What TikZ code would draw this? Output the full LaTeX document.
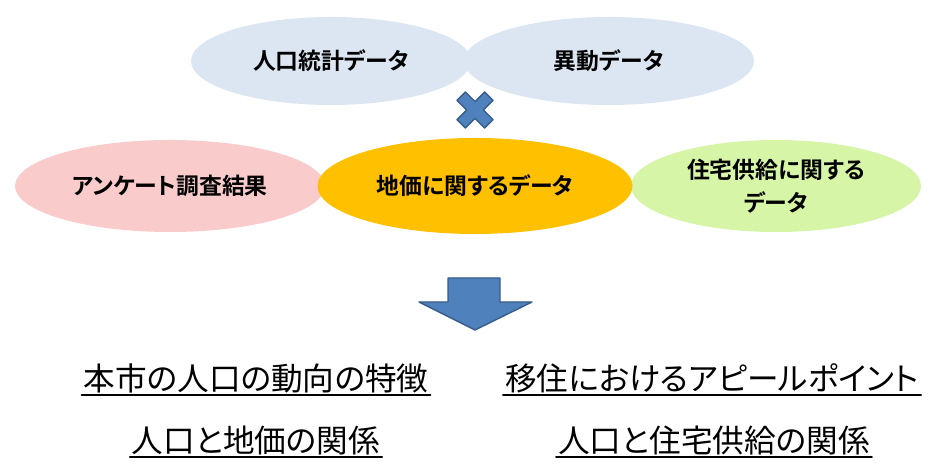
\documentclass[tikz,border=0pt]{standalone}
\usepackage{fontspec}
\setmainfont{Noto Sans CJK JP}[BoldFont=Noto Sans CJK JP Bold,RawFeature=+palt]
\usepackage{xcolor}
\usetikzlibrary{shapes.geometric,calc}
\definecolor{topblue}{HTML}{DCE6F2}
\definecolor{pinkfill}{HTML}{F9CBCB}
\definecolor{orangefill}{HTML}{FFC000}
\definecolor{greenfill}{HTML}{D7F5A7}
\definecolor{arrowfill}{HTML}{4F81BD}
\definecolor{arrowline}{HTML}{385D8A}
\tikzset{
    blob/.style={
        ellipse, inner sep=0pt, align=center,
        font=\fontsize{13}{19}\selectfont\bfseries
    },
    res/.style={
        inner sep=1pt,
        font=\fontsize{18}{22}\selectfont
    },
    uline/.style={line width=1.2pt}
}

\begin{document}
\begin{tikzpicture}[line cap=round,line join=round]

% --- canvas ---
    \useasboundingbox (0,0) rectangle (18.82,-9.42);

% data sources (top row)
    \node[blob, fill=topblue, minimum width=5.6cm, minimum height=1.76cm] (stat) at (6.62,-1.22) {人口統計データ};
    \node[blob, fill=topblue, minimum width=5.8cm, minimum height=1.76cm] (move) at (12.18,-1.22) {異動データ};

% cross mark
    \coordinate (cross) at (9.5,-2.2);
    \draw[fill=arrowfill, draw=arrowline, line width=0.8pt, rotate around={45:(cross)}]
        ($(cross)+(0.39,0.12)$) -- ($(cross)+(0.12,0.12)$) -- ($(cross)+(0.12,0.39)$)
        -- ($(cross)+(-0.12,0.39)$) -- ($(cross)+(-0.12,0.12)$) -- ($(cross)+(-0.39,0.12)$)
        -- ($(cross)+(-0.39,-0.12)$) -- ($(cross)+(-0.12,-0.12)$) -- ($(cross)+(-0.12,-0.39)$)
        -- ($(cross)+(0.12,-0.39)$) -- ($(cross)+(0.12,-0.12)$) -- ($(cross)+(0.39,-0.12)$) -- cycle;

% data sources (second row)
    \node[blob, fill=pinkfill, minimum width=6.2cm, minimum height=1.84cm] (survey) at (3.4,-3.72) {アンケート調査結果};
    \node[blob, fill=greenfill, minimum width=5.8cm, minimum height=1.84cm] (house) at (15.52,-3.72) {住宅供給に関する\\データ};
    \node[blob, fill=orangefill, minimum width=6.3cm, minimum height=1.92cm] (land) at (9.5,-3.72) {地価に関するデータ};

% down arrow
    \draw[fill=arrowfill, draw=arrowline, line width=0.8pt]
        (8.96,-5.56) -- (10.0,-5.56) -- (10.0,-6.04) -- (10.64,-6.04)
        -- (9.5,-6.6) -- (8.38,-6.04) -- (8.96,-6.04) -- cycle;

% results
    \node[res] (trend) at (5.12,-7.56) {本市の人口の動向の特徴};
    \node[res] (appeal) at (14.24,-7.56) {移住におけるアピールポイント};
    \node[res] (price) at (5.12,-8.8) {人口と地価の関係};
    \node[res] (supply) at (14.28,-8.8) {人口と住宅供給の関係};

% underlines
    \foreach \n in {trend,appeal,price,supply}
        \draw[uline] (\n.south west) -- (\n.south east);

  \end{tikzpicture}
\end{document}
